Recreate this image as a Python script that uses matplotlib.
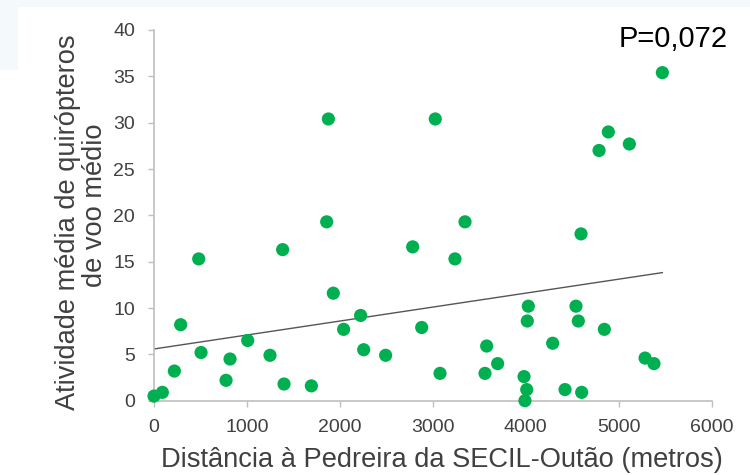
import matplotlib
matplotlib.use("Agg")
import matplotlib.pyplot as plt
from matplotlib.patches import Rectangle
import numpy as np

plt.rcParams['font.family'] = ['Liberation Sans', 'DejaVu Sans']

distance = [0, 90, 219, 287, 481, 506, 775, 818, 1008, 1248, 1384, 1399, 1693,
            1858, 1929, 2040, 2223, 2256, 2492, 2783, 2880, 3077, 3238,
            3346, 4594, 4027, 4016, 4540, 4565, 4845, 3579, 4289, 3697, 3561,
            3981, 4010, 3991, 4422, 4601, 5283, 5379,
            1876, 3026, 5469, 4888, 4788, 5114]
activity = [0.5, 0.9, 3.2, 8.2, 15.3, 5.2, 2.2, 4.5, 6.5, 4.9, 16.3, 1.8, 1.6,
            19.3, 11.6, 7.7, 9.2, 5.5, 4.9, 16.6, 7.9, 2.95, 15.3,
            19.3, 18.0, 10.2, 8.6, 10.2, 8.6, 7.7, 5.9, 6.2, 4.0, 2.95,
            2.6, 1.2, 0.0, 1.2, 0.9, 4.6, 4.0,
            30.4, 30.4, 35.4, 29.0, 27.0, 27.7]

x_ticks = [0, 1000, 2000, 3000, 4000, 5000, 6000]
y_ticks = [0, 5, 10, 15, 20, 25, 30, 35, 40]
x_label = "Distância à Pedreira da SECIL-Outão (metros)"
y_label_lines = ["Atividade média de quirópteros", "de voo médio"]
p_text = "P=0,072"

W, H = 750, 475
fig = plt.figure(figsize=(7.5, 4.75), dpi=100)
# faint background bands of the source slide
fig.patches.append(Rectangle((0, 1 - 7/H), 1, 7/H, transform=fig.transFigure,
                             facecolor='#f4f9fc', edgecolor='none', zorder=0))
fig.patches.append(Rectangle((0, 1 - 70/H), 18/W, 70/H, transform=fig.transFigure,
                             facecolor='#f4f9fc', edgecolor='none', zorder=0))

ax = fig.add_axes([154/W, 1 - 400.7/H, (711.7 - 154)/W, (400.7 - 30)/H])
ax.patch.set_alpha(0)

ax.scatter(distance, activity, s=90, color='#00b050', edgecolors='none', zorder=3,
           clip_on=False)

xd = np.array(distance, dtype=float)
yd = np.array(activity, dtype=float)
slope, intercept = np.polyfit(xd, yd, 1)
xl = np.array([xd.min(), xd.max()])
ax.plot(xl, slope * xl + intercept, color='#555555', lw=1.0, zorder=2)

ax.set_xlim(0, 6000)
ax.set_ylim(0, 40)
ax.set_xticks(x_ticks)
ax.set_yticks(y_ticks)
ax.tick_params(axis='both', colors='#bfbfbf', labelcolor='#404040', labelsize=14,
               length=4.5, width=1, direction='out')
ax.tick_params(axis='x', pad=8.5)
ax.tick_params(axis='y', pad=9)
for s in ['top', 'right']:
    ax.spines[s].set_visible(False)
for s in ['left', 'bottom']:
    ax.spines[s].set_color('#bfbfbf')
    ax.spines[s].set_linewidth(1.2)

fig.text(442/W, 1 - 467/H, x_label, fontsize=19.6, color='#404040',
         ha='center', va='baseline')
fig.text(75/W, 1 - 222/H, y_label_lines[0], fontsize=19.6, color='#404040',
         rotation=90, rotation_mode='anchor', ha='center', va='baseline')
fig.text(102/W, 1 - 205/H, y_label_lines[1], fontsize=19.6, color='#404040',
         rotation=90, rotation_mode='anchor', ha='center', va='baseline')

fig.text(728/W, 1 - 47/H, p_text, fontsize=21, color='black', ha='right', va='baseline')

fig.savefig("out.png", dpi=100)
